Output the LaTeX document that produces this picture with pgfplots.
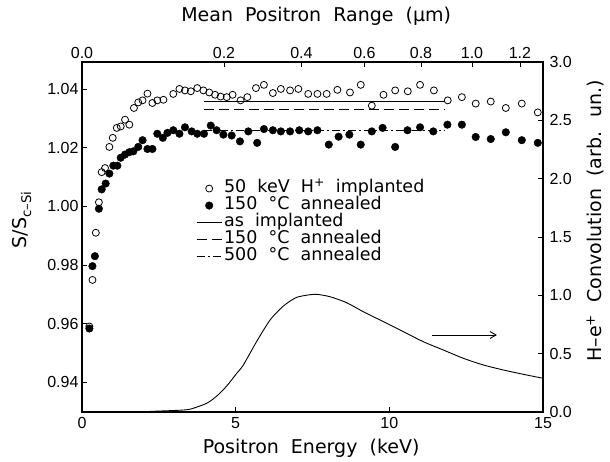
\documentclass[border=0pt]{standalone}
\usepackage{fontspec}
\setmainfont[WordSpace=2.0]{DejaVu Sans}
\newfontfamily\tickfont{Liberation Sans}
\usepackage{pgfplots}
\usepackage{pgfplotstable}
\pgfplotsset{compat=1.18}
\usetikzlibrary{arrows.meta}

\pgfplotsset{
  markleg/.style={legend image code/.code={\draw[##1] plot coordinates {(12.5pt,0pt)};}},
  lineleg/.style={legend image code/.code={\draw[##1] (0pt,0pt) -- (25pt,0pt);}},
}

% S-parameter, as implanted (open circles)
\pgfplotstableread{
E S
0.24 0.9590
0.34 0.9749
0.45 0.9910
0.55 1.0014
0.64 1.0117
0.75 1.0131
0.89 1.0203
1.00 1.0234
1.13 1.0268
1.26 1.0273
1.40 1.0296
1.54 1.0279
1.69 1.0336
1.83 1.0355
1.97 1.0362
2.13 1.0385
2.29 1.0353
2.45 1.0362
2.65 1.0364
2.97 1.0384
3.17 1.0401
3.35 1.0396
3.54 1.0393
3.75 1.0404
3.95 1.0396
4.14 1.0389
4.33 1.0381
4.51 1.0375
4.71 1.0373
4.90 1.0381
5.16 1.0362
5.38 1.0373
5.66 1.0404
5.92 1.0415
6.21 1.0387
6.47 1.0401
6.77 1.0396
7.04 1.0401
7.36 1.0384
7.66 1.0384
7.96 1.0384
8.31 1.0398
8.72 1.0389
9.07 1.0415
9.43 1.0344
9.81 1.0381
10.19 1.0396
10.60 1.0393
11.00 1.0415
11.45 1.0396
11.90 1.0362
12.36 1.0373
12.81 1.0351
13.30 1.0358
13.79 1.0336
14.31 1.0351
14.83 1.0321
}\implanted

% S-parameter, 150 C annealed (filled circles)
\pgfplotstableread{
E S
0.24 0.9583
0.34 0.9796
0.42 0.9830
0.55 0.9992
0.64 1.0058
0.77 1.0078
0.89 1.0112
1.02 1.0139
1.15 1.0139
1.26 1.0166
1.40 1.0177
1.54 1.0185
1.67 1.0188
1.83 1.0203
1.97 1.0226
2.13 1.0196
2.29 1.0196
2.45 1.0248
2.63 1.0234
2.78 1.0251
2.97 1.0260
3.17 1.0248
3.35 1.0270
3.57 1.0256
3.75 1.0248
3.97 1.0248
4.19 1.0276
4.38 1.0260
4.60 1.0245
4.87 1.0242
5.14 1.0222
5.41 1.0256
5.70 1.0217
5.92 1.0264
6.21 1.0260
6.47 1.0256
6.77 1.0256
7.07 1.0260
7.36 1.0256
7.66 1.0260
8.03 1.0211
8.35 1.0238
8.70 1.0245
9.07 1.0211
9.43 1.0256
9.78 1.0268
10.19 1.0203
10.59 1.0260
11.00 1.0270
11.43 1.0256
11.89 1.0279
12.36 1.0279
12.81 1.0237
13.30 1.0230
13.79 1.0253
14.31 1.0226
14.83 1.0217
}\annealed

% H-e+ convolution (right axis)
\pgfplotstableread{
E C
0 0
1.5 0
2.0 0.003
2.5 0.008
3.0 0.013
3.5 0.023
4.06 0.075
4.4 0.14
4.71 0.223
5.03 0.33
5.25 0.403
5.68 0.603
6.12 0.789
6.55 0.908
6.99 0.983
7.58 1.009
8.07 0.988
8.61 0.937
9.15 0.860
9.81 0.774
10.46 0.688
11.10 0.603
11.76 0.531
12.41 0.460
13.06 0.403
13.71 0.360
14.36 0.323
15.0 0.289
}\conv

\begin{document}
\begin{tikzpicture}
\pgfplotsset{
  every axis/.append style={
    scale only axis, width=461pt, height=350pt,
    xmin=0, xmax=15,
    tick align=inside,
    major tick length=5pt,
    every tick/.style={black, line width=0.9pt},
    axis line style={line width=1.1pt},
    tick label style={font=\tickfont\fontsize{16}{18}\selectfont},
    label style={font=\fontsize{19}{21}\selectfont},
    /pgf/number format/assume math mode=true,
  },
}
\begin{axis}[
  ymin=0.9298, ymax=1.0493,
  xtick={0,5,10,15},
  ytick={0.94,0.96,0.98,1.00,1.02,1.04},
  xtick pos=left, ytick pos=left,
  xticklabel style={yshift=-1.5pt},
  yticklabel style={/pgf/number format/fixed, /pgf/number format/fixed zerofill, /pgf/number format/precision=2},
  xlabel={Positron Energy (keV)},
  xlabel style={at={(rel axis cs:0.497,-0.103)}, anchor=center},
  ylabel={S/S\textsubscript{c--Si}},
  ylabel style={at={(rel axis cs:-0.130,0.549)}, anchor=center},
  legend style={at={(rel axis cs:0.241,0.669)}, anchor=north west, draw=none, fill=none,
    font=\fontsize{17.5}{18}\selectfont, row sep=0pt, column sep=1pt,
    nodes={inner sep=1pt, text height=11.5pt, text depth=3.5pt}},
  legend cell align=left,
]
\addplot[only marks, mark=o, mark size=3.5pt, mark options={line width=0.8pt}, markleg]
  table[x=E, y=S] {\implanted};
\addlegendentry{50 keV H\textsuperscript{+} implanted}
\addplot[only marks, mark=*, mark size=3.8pt, markleg]
  table[x=E, y=S] {\annealed};
\addlegendentry{150 °C annealed}
\addplot[line width=0.7pt, lineleg]
  coordinates {(3.97,1.0357) (11.8,1.0357)};
\addlegendentry{as implanted}
\addplot[line width=0.8pt, dash pattern=on 10pt off 5pt, lineleg]
  coordinates {(3.97,1.0330) (11.8,1.0330)};
\addlegendentry{150 °C annealed}
\addplot[line width=0.8pt, dash pattern=on 8pt off 3pt on 2pt off 3pt, lineleg]
  coordinates {(3.97,1.0260) (11.8,1.0260)};
\addlegendentry{500 °C annealed}
\end{axis}

\begin{axis}[
  ymin=0, ymax=3,
  axis x line*=top, axis y line*=right,
  xtick={0,4.62,7.14,9.19,11.03,12.69,14.25},
  xticklabels={0.0,0.2,0.4,0.6,0.8,1.0,1.2},
  ytick={0,0.5,1.0,1.5,2.0,2.5,3.0},
  yticklabel style={xshift=3pt, /pgf/number format/fixed, /pgf/number format/fixed zerofill, /pgf/number format/precision=1},
  xlabel={Mean Positron Range (μm)},
  xlabel style={at={(rel axis cs:0.508,1.131)}, anchor=center},
  ylabel={H--e\textsuperscript{+} Convolution (arb. un.)},
  ylabel style={at={(rel axis cs:1.113,0.546)}, anchor=center},
]
\addplot[line width=0.9pt, smooth, tension=0.4] table[x=E, y=C] {\conv};
\draw[line width=0.9pt, -{Straight Barb[length=6pt, width=7pt]}] (axis cs:11.4,0.66) -- (axis cs:13.5,0.66);
\end{axis}
\path[use as bounding box] (-82pt,-50pt) rectangle (528pt,412pt);
\end{tikzpicture}
\end{document}
